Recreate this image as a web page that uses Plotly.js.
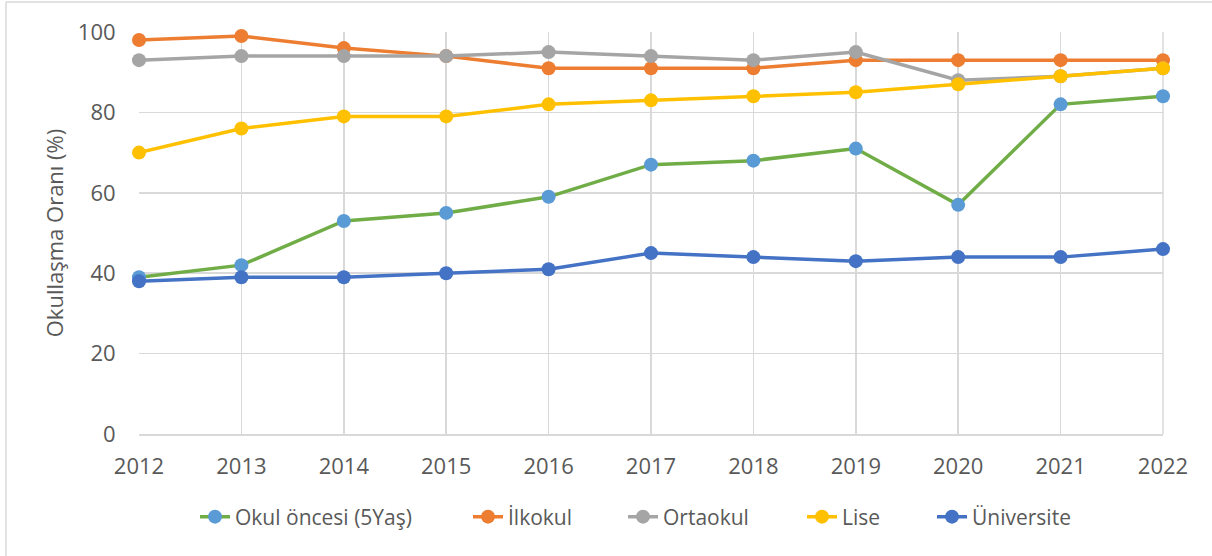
<!DOCTYPE html>
<html>
<head>
<meta charset="utf-8">
<script src="https://cdn.plot.ly/plotly-3.0.1.min.js"></script>
<style>
html,body{margin:0;padding:0;background:#fff;}
#chart{width:1212px;height:556px;}
</style>
</head>
<body>
<div id="chart"></div>
<script>
const years = [2012, 2013, 2014, 2015, 2016, 2017, 2018, 2019, 2020, 2021, 2022];
const okulOncesi = [39, 42, 53, 55, 59, 67, 68, 71, 57, 82, 84];
const ilkokul = [98, 99, 96, 94, 91, 91, 91, 93, 93, 93, 93];
const ortaokul = [93, 94, 94, 94, 95, 94, 93, 95, 88, 89, 91];
const lise = [70, 76, 79, 79, 82, 83, 84, 85, 87, 89, 91];
const universite = [38, 39, 39, 40, 41, 45, 44, 43, 44, 44, 46];
const seriesNames = ["Okul öncesi (5Yaş)", "İlkokul", "Ortaokul", "Lise", "Üniversite"];
const yTicks = [0, 20, 40, 60, 80, 100];

const font = "'Open Sans', 'Noto Sans', sans-serif";
const pw = 1212 - 139 - 49, ph = 434 - 32;
// legend text starting positions (pixels)
const legendTextX = [235, 508, 663, 842, 972];
const legendIds = ["legend", "legend2", "legend3", "legend4", "legend5"];

function tr(i, y, lineColor, markerColor) {
  return {
    x: years, y: y, name: seriesNames[i], type: "scatter", mode: "lines+markers",
    line: {color: lineColor, width: 3.5},
    marker: {color: markerColor, size: 14},
    cliponaxis: false, legend: legendIds[i]
  };
}
const data = [
  tr(0, okulOncesi, "#70AD47", "#5B9BD5"),
  tr(1, ilkokul, "#ED7D31", "#ED7D31"),
  tr(2, ortaokul, "#A5A5A5", "#A5A5A5"),
  tr(3, lise, "#FFC000", "#FFC000"),
  tr(4, universite, "#4472C4", "#4472C4")
];
const layout = {
  width: 1212, height: 556,
  margin: {l: 139, r: 49, t: 32, b: 122},
  paper_bgcolor: "#fff", plot_bgcolor: "#fff",
  font: {family: font, size: 21, color: "#595959"},
  showlegend: true,
  xaxis: {range: [2012, 2022], tickvals: years, ticktext: years.map(String),
          showgrid: true, gridcolor: "#D9D9D9", gridwidth: 1.5, zeroline: false,
          showline: true, linecolor: "#D9D9D9", linewidth: 1.5,
          ticks: "outside", ticklen: 12, tickcolor: "rgba(0,0,0,0)",
          tickfont: {size: 22, color: "#595959"}, fixedrange: true},
  yaxis: {range: [0, 100], tickvals: yTicks,
          showgrid: true, gridcolor: "#D9D9D9", gridwidth: 1.5, zeroline: false,
          showline: false, ticks: "outside", ticklen: 18, tickcolor: "rgba(0,0,0,0)",
          tickfont: {size: 22, color: "#595959"},
          title: {text: "Okullaşma Oranı (%)", font: {size: 22, color: "#595959"}, standoff: 8},
          fixedrange: true},
  shapes: [
    {type: "line", xref: "paper", yref: "paper", x0: 1, x1: 1, y0: 0, y1: 1,
     line: {color: "#D9D9D9", width: 1.5}, layer: "below"},
    {type: "line", xref: "paper", yref: "paper",
     x0: (6 - 139) / pw, x1: (6 - 139) / pw, y0: (434 - 556) / ph, y1: (434 - 2) / ph,
     line: {color: "#D9D9D9", width: 1.5}},
    {type: "line", xref: "paper", yref: "paper",
     x0: (6 - 139) / pw, x1: (1212 - 139) / pw, y0: (434 - 2) / ph, y1: (434 - 2) / ph,
     line: {color: "#D9D9D9", width: 1.5}}
  ]
};
legendIds.forEach(function (id, i) {
  layout[id] = {orientation: "h", x: (legendTextX[i] - 40 - 139) / pw, xanchor: "left",
                y: (434 - 517) / ph, yanchor: "middle", borderwidth: 0,
                bgcolor: "rgba(0,0,0,0)",
                font: {size: 21, color: "#595959"}};
});
Plotly.newPlot("chart", data, layout, {displayModeBar: false, staticPlot: true});
</script>
</body>
</html>
